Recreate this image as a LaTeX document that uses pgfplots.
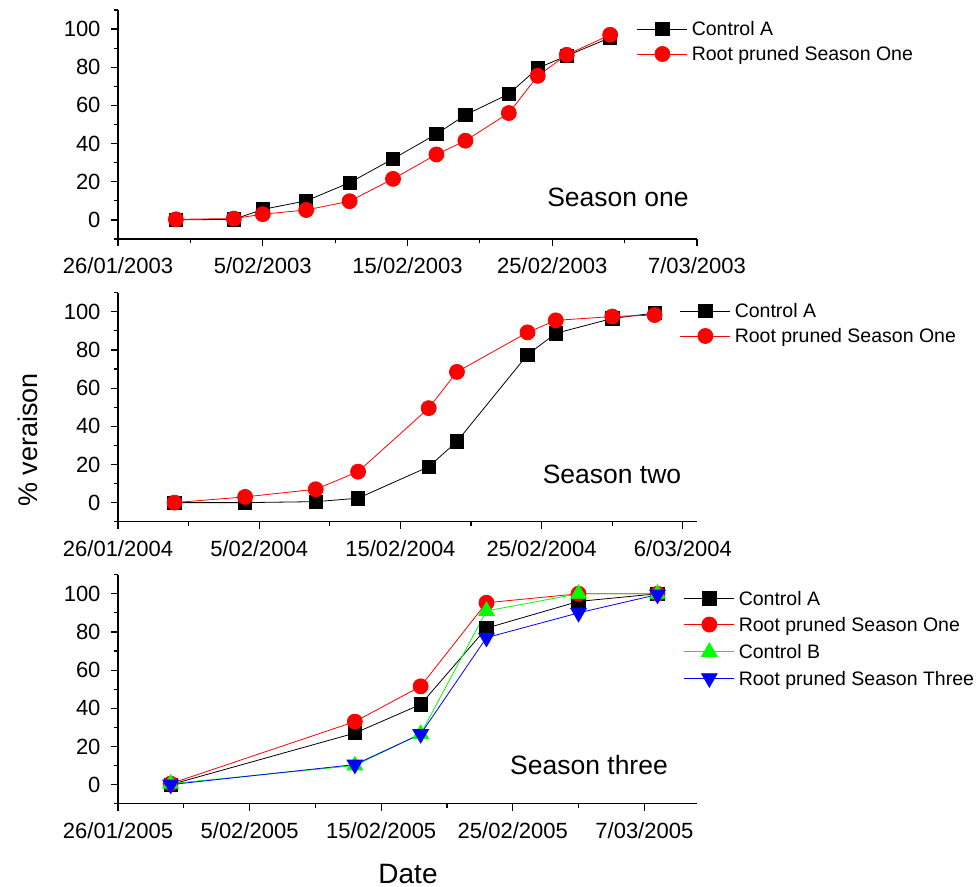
\documentclass[border=0pt]{standalone}
\usepackage{pgfplots}
\pgfplotsset{compat=1.18}
\usepackage{fontspec}
\setmainfont{Liberation Sans}
\pgfplotsset{
  panel/.style={
    scale only axis, width=579bp, height=229bp,
    xmin=0, ymin=-10, ymax=110,
    axis x line*=bottom, axis y line*=left,
    axis line style={-, line width=1.2bp},
    ytick={0,20,40,60,80,100},
    minor ytick={-10,10,30,50,70,90,110},
    xtick={0,10,20,30,40},
    minor xtick={5,15,25,35},
    tick align=outside,
    major tick length=7bp, minor tick length=4.5bp,
    every tick/.style={line width=1.2bp, black},
    tick label style={font=\fontsize{22bp}{26bp}\selectfont},
    xticklabel style={yshift=-8bp},
    yticklabel style={xshift=-7bp},
    /pgf/number format/assume math mode=true,
    clip=false,
    legend cell align=left,
    legend image code/.code={%
      \draw[##1, mark=none] (0bp,1.5bp) -- (50bp,1.5bp);
      \path[##1] plot coordinates {(25bp,1.5bp)};},
    legend style={draw=none, fill=none, inner sep=0pt, outer sep=0pt,
      font=\fontsize{19.5bp}{24bp}\selectfont, column sep=4bp, row sep=6bp,
      nodes={inner sep=0pt, outer sep=0pt, text height=15bp, text depth=4bp}},
  },
  ctrlA/.style={black, line width=0.8bp, mark=square*, mark size=6.7bp, mark options={solid, fill=black, draw=black}},
  rootA/.style={red, line width=0.8bp, mark=*, mark size=7.5bp, mark options={solid, fill=red, draw=red}},
  ctrlB/.style={green, line width=0.8bp, mark=triangle*, mark size=9bp, mark options={solid, fill=green, draw=green}},
  rootB/.style={blue, line width=0.8bp, mark=triangle*, mark size=9bp, mark options={solid, rotate=180, fill=blue, draw=blue}},
}
\begin{document}
\begin{tikzpicture}
\useasboundingbox (0,0) rectangle (979bp,887bp);

% Season one
\begin{axis}[panel, at={(118bp,648bp)}, anchor=south west, xmax=40,
  xticklabels={26/01/2003,5/02/2003,15/02/2003,25/02/2003,7/03/2003},
  legend style={at={(0.8964,0.952)}, anchor=north west}]
\addplot[ctrlA] coordinates {(4,0)(8,0.3)(10,5.5)(13,10)(16,19.5)(19,32)(22,45)(24,55)(27,66)(29,79.5)(31,86)(34,95.5)};
\addplot[rootA] coordinates {(4,0.3)(8,0.7)(10,3)(13,5.2)(16,9.8)(19,21.5)(22,34.3)(24,41.5)(27,56)(29,75.5)(31,86.5)(34,97)};
\legend{Control A, Root pruned Season One}
\end{axis}
\node[anchor=base, font=\fontsize{26.5bp}{30bp}\selectfont] at (618bp,680.3bp) {Season one};

% Season two
\begin{axis}[panel, at={(118bp,365.3bp)}, anchor=south west, xmax=41,
  xticklabels={26/01/2004,5/02/2004,15/02/2004,25/02/2004,6/03/2004},
  legend style={at={(0.9706,0.955)}, anchor=north west}]
\addplot[ctrlA] coordinates {(4,0)(9,0)(14,0.5)(17,2.3)(22,18.8)(24,32)(29,77.5)(31,88.7)(35,96.5)(38,99.3)};
\addplot[rootA] coordinates {(4,0)(9,3)(14,7)(17,16.2)(22,49.5)(24,68.5)(29,89.2)(31,95.5)(35,97.5)(38,98.3)};
\legend{Control A, Root pruned Season One}
\end{axis}
\node[anchor=base, font=\fontsize{26.5bp}{30bp}\selectfont] at (612bp,403.5bp) {Season two};

% Season three
\begin{axis}[panel, at={(118bp,83.3bp)}, anchor=south west, xmax=44,
  xticklabels={26/01/2005,5/02/2005,15/02/2005,25/02/2005,7/03/2005},
  legend style={at={(0.9775,0.932)}, anchor=north west, row sep=7.3bp}]
\addplot[ctrlA] coordinates {(4,0)(18,27)(23,42)(28,82)(35,96)(41,100)};
\addplot[rootA] coordinates {(4,0.5)(18,33)(23,51.5)(28,95.3)(35,100)(41,100)};
\addplot[ctrlB] coordinates {(4,0.5)(18,10)(23,26.5)(28,91)(35,100)(41,100)};
\addplot[rootB] coordinates {(4,0)(18,10.5)(23,26.5)(28,77)(35,90)(41,99.6)};
\legend{Control A, Root pruned Season One, Control B, Root pruned Season Three}
\end{axis}
\node[anchor=base, font=\fontsize{26.5bp}{30bp}\selectfont] at (589bp,112bp) {Season three};

\node[anchor=base, rotate=90, font=\fontsize{27bp}{30bp}\selectfont] at (37bp,447bp) {\% veraison};
\node[anchor=base, font=\fontsize{28bp}{32bp}\selectfont] at (408bp,4bp) {Date};
\end{tikzpicture}
\end{document}
